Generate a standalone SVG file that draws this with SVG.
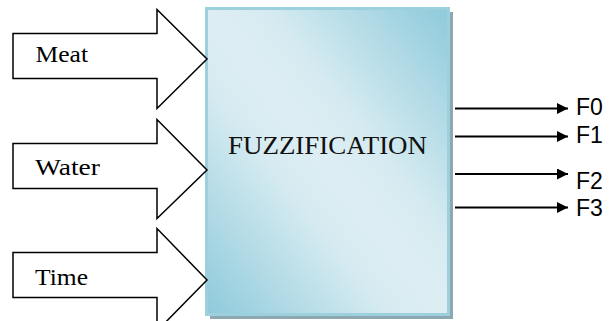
<svg xmlns="http://www.w3.org/2000/svg" width="616" height="321" viewBox="0 0 616 321">
<defs>
<linearGradient id="boxGrad" x1="1" y1="0" x2="0" y2="1">
<stop offset="0" stop-color="#8ecadb"/>
<stop offset="0.38" stop-color="#d6ebf1"/>
<stop offset="0.5" stop-color="#ddeef3"/>
<stop offset="0.62" stop-color="#d6ebf1"/>
<stop offset="1" stop-color="#8ecadb"/>
</linearGradient>
<marker id="arrowHead" viewBox="0 0 10 10" refX="10" refY="5" markerWidth="7.5" markerHeight="5.5" markerUnits="strokeWidth" orient="auto">
<path d="M0,0 L10,5 L0,10 Z" fill="#000"/>
</marker>
</defs>
<style>
.block{fill:#fff;stroke:#000;stroke-width:1.5;stroke-linejoin:miter}
.inlabel{font-family:"Liberation Serif","Times New Roman",serif;font-size:23px;fill:#000}
.title{font-family:"Liberation Serif","Times New Roman",serif;font-size:25px;fill:#111}
.out{stroke:#000;stroke-width:2;fill:none;marker-end:url(#arrowHead)}
.outlabel{font-family:"Liberation Sans",Arial,sans-serif;font-size:23px;fill:#000}
</style>
<rect width="616" height="321" fill="#fff"/>
<g id="node-fuzzification">
<rect x="210" y="12" width="243" height="307" fill="#8ea8b2"/>
<rect x="206.5" y="8.5" width="242" height="306" fill="url(#boxGrad)" stroke="#9dd0dd" stroke-width="3"/>
<text class="title" x="228" y="154" textLength="199" lengthAdjust="spacingAndGlyphs">FUZZIFICATION</text>
</g>
<g id="node-meat">
<path class="block" d="M13,33.5 H157 V9.5 L207,59 L157,108.5 V78.5 H13 Z"/>
<text class="inlabel" x="35.5" y="62" textLength="52.6" lengthAdjust="spacingAndGlyphs">Meat</text>
</g>
<g id="node-water">
<path class="block" d="M13,143.5 H157 V119.5 L207,170 L157,218.5 V188.5 H13 Z"/>
<text class="inlabel" x="35" y="175" textLength="65" lengthAdjust="spacingAndGlyphs">Water</text>
</g>
<g id="node-time">
<path class="block" d="M13,252.5 H157 V228.5 L207,280 L157,331 V297.5 H13 Z"/>
<text class="inlabel" x="35" y="285" textLength="53" lengthAdjust="spacingAndGlyphs">Time</text>
</g>
<g id="connectors">
<line class="out" x1="455" y1="108.5" x2="568" y2="108.5"/>
<line class="out" x1="455" y1="136.5" x2="568" y2="136.5"/>
<line class="out" x1="455" y1="174" x2="568" y2="174"/>
<line class="out" x1="455" y1="207.5" x2="568" y2="207.5"/>
</g>
<g id="outputs">
<text class="outlabel" x="576" y="115">F0</text>
<text class="outlabel" x="576" y="143">F1</text>
<text class="outlabel" x="576" y="189">F2</text>
<text class="outlabel" x="576" y="216">F3</text>
</g>
</svg>
